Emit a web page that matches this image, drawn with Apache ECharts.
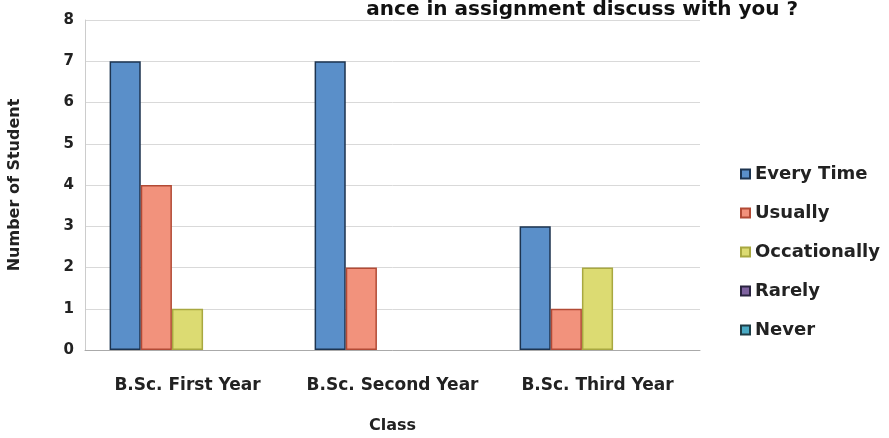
<!DOCTYPE html>
<html><head><meta charset="utf-8">
<script src="https://cdn.jsdelivr.net/npm/echarts@6/dist/echarts.min.js"></script>
<style>html,body{margin:0;padding:0;background:#fff}#c{width:889px;height:438px}</style>
</head><body><div id="c"></div>
<script>
const categories = ['B.Sc. First Year', 'B.Sc. Second Year', 'B.Sc. Third Year'];
const seriesNames = ['Every Time', 'Usually', 'Occationally', 'Rarely', 'Never'];
const everyTime = [7, 7, 3];
const usually = [4, 2, 1];
const occationally = [1, 0, 2];
const rarely = [0, 0, 0];
const never = [0, 0, 0];
const yTicks = [0, 1, 2, 3, 4, 5, 6, 7, 8];

const values = [everyTime, usually, occationally, rarely, never];
const fills = ['#5a8fc9', '#f2927c', '#dcdb72', '#7f63a0', '#4aaac4'];
const borders = ['#1d3450', '#b24a35', '#a8a840', '#2a2440', '#1f3d45'];
const font = '"DejaVu Sans", sans-serif';

const chart = echarts.init(document.getElementById('c'));
chart.setOption({
  animation: false,
  backgroundColor: '#fff',
  title: {
    text: 'ance in assignment discuss with you ?',
    right: 86, top: -5,
    textStyle: { fontFamily: font, fontWeight: 'bold', fontSize: 20, color: '#111' }
  },
  legend: {
    orient: 'vertical', left: 735, top: 160, itemGap: 21,
    itemWidth: 9, itemHeight: 9, icon: 'rect',
    textStyle: { fontFamily: font, fontSize: 18, color: '#222', fontWeight: 'bold' },
    data: seriesNames.map((n, i) => ({ name: n, itemStyle: { borderColor: borders[i], borderWidth: 2 } }))
  },
  grid: { left: 85, right: 189, top: 20, bottom: 88, containLabel: false, outerBoundsMode: 'none' },
  xAxis: {
    type: 'category', data: categories,
    name: 'Class', nameLocation: 'middle', nameGap: 68,
    nameTextStyle: { fontFamily: font, fontSize: 16, color: '#222', fontWeight: 'bold' },
    axisLine: { lineStyle: { color: '#aaa' } },
    axisTick: { show: false },
    axisLabel: { fontFamily: font, fontSize: 17, color: '#222', margin: 27, fontWeight: 'bold', interval: 0 }
  },
  yAxis: {
    type: 'value', min: 0, max: 8, interval: 1,
    name: 'Number of Student', nameLocation: 'middle', nameGap: 62, nameRotate: 90,
    nameTextStyle: { fontFamily: font, fontSize: 16, color: '#222', fontWeight: 'bold' },
    axisLine: { show: true, lineStyle: { color: '#ccc' } },
    axisTick: { show: false },
    splitLine: { lineStyle: { color: '#d9d9d9' } },
    axisLabel: {
      fontFamily: font, fontSize: 15, color: '#222', margin: 11, fontWeight: 'bold',
      formatter: v => String(yTicks[v])
    }
  },
  series: seriesNames.map((n, i) => ({
    name: n, type: 'bar',
    data: values[i].map(v => v === 0 ? { value: v, itemStyle: { borderWidth: 0 } } : v),
    barGap: '0%', barCategoryGap: '24%',
    itemStyle: { color: fills[i], borderColor: borders[i], borderWidth: 1.5 }
  }))
});
</script></body></html>
